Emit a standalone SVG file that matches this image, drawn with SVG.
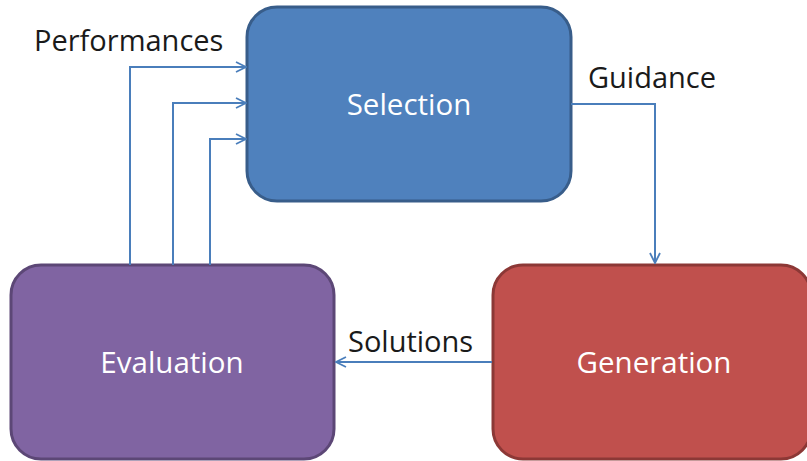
<svg xmlns="http://www.w3.org/2000/svg" width="807" height="461" viewBox="0 0 807 461">
  <style>
    .box { stroke-width: 3; }
    .lbl { font-family: "Open Sans", "Liberation Sans", sans-serif; font-size: 29.5px; fill: #ffffff; text-anchor: middle; }
    .cap { font-family: "Open Sans", "Liberation Sans", sans-serif; font-size: 29px; fill: #1a1a1a; }
    .wire { fill: none; stroke: #4a7ebb; stroke-width: 2; marker-end: url(#arr); }
  </style>
  <defs>
    <marker id="arr" viewBox="0 0 12 12" refX="11" refY="6" markerWidth="12" markerHeight="12" markerUnits="userSpaceOnUse" orient="auto">
      <path d="M1 1 L11 6 L1 11" fill="none" stroke="#4a7ebb" stroke-width="1.8"/>
    </marker>
  </defs>

  <g id="selection">
    <rect class="box" x="247" y="7" width="324" height="194" rx="30" fill="#4f81bd" stroke="#385d8a"/>
    <text class="lbl" x="409" y="115">Selection</text>
  </g>
  <g id="evaluation">
    <rect class="box" x="11" y="265" width="323" height="194" rx="30" fill="#8064a2" stroke="#5c4776"/>
    <text class="lbl" x="172" y="373">Evaluation</text>
  </g>
  <g id="generation">
    <rect class="box" x="493" y="265" width="318" height="194" rx="30" fill="#c0504d" stroke="#8c3836"/>
    <text class="lbl" x="654" y="373">Generation</text>
  </g>

  <g id="connectors">
    <path class="wire" d="M130 265 V67 H246"/>
    <path class="wire" d="M173 265 V103 H246"/>
    <path class="wire" d="M210 265 V139 H246"/>
    <path class="wire" d="M571 104 H655 V263"/>
    <path class="wire" d="M492 362 H336"/>
  </g>

  <text class="cap" x="34" y="51">Performances</text>
  <text class="cap" x="588" y="88">Guidance</text>
  <text class="cap" x="348" y="352">Solutions</text>
</svg>
